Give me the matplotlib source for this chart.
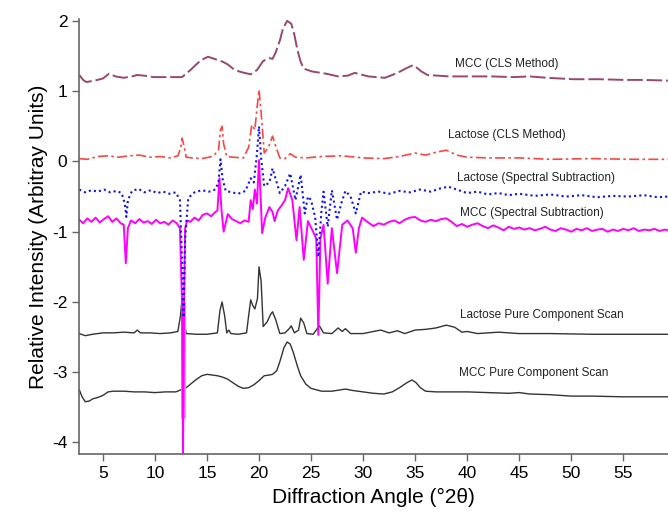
import matplotlib.pyplot as plt

plt.rcParams['font.family'] = ['Liberation Sans', 'DejaVu Sans']
plt.rcParams['axes.unicode_minus'] = False

# MCC (CLS Method)
mcc_cls_x = [2.73, 3.1, 3.4, 4.2, 5.0, 5.6, 6.2, 7.0, 7.8, 8.3, 9.0, 9.9, 11.0, 12.6, 13.0, 13.4, 13.9,
             14.4, 15.1, 15.7, 16.5, 17.0, 17.5, 18.1, 18.6, 19.2, 19.8, 20.4, 21.0, 21.3, 21.6, 22.0,
             22.3, 22.7, 23.1, 23.4, 23.7, 24.0, 24.3, 25.1, 26.4, 27.6, 28.5, 29.2, 30.5, 31.3, 32.1,
             33.3, 34.2, 34.8, 35.2, 35.6, 36.2, 38.3, 40.3, 42.4, 44.4, 46.0, 47.7, 50.2, 52.7,
             55.1, 57.0, 59.3]
mcc_cls_y = [1.23, 1.16, 1.13, 1.15, 1.18, 1.25, 1.21, 1.19, 1.21, 1.23, 1.22, 1.20, 1.20, 1.20, 1.25,
             1.30, 1.37, 1.44, 1.49, 1.46, 1.42, 1.38, 1.32, 1.28, 1.26, 1.24, 1.30, 1.43, 1.47, 1.46,
             1.55, 1.72, 1.89, 2.00, 1.96, 1.80, 1.58, 1.42, 1.32, 1.28, 1.25, 1.21, 1.22, 1.26, 1.21,
             1.20, 1.19, 1.26, 1.33, 1.37, 1.33, 1.28, 1.23, 1.21, 1.21, 1.21, 1.20, 1.21, 1.19, 1.17,
             1.17, 1.16, 1.16, 1.15]

# Lactose (CLS Method)
lac_cls_x = [2.73, 3.5, 4.5, 5.5, 6.5, 7.5, 8.5, 9.5, 10.5, 11.5, 12.2, 12.5, 12.6, 12.8, 13.0, 13.6,
             14.5, 15.5, 16.1, 16.3, 16.45, 16.6, 16.9, 17.5, 18.5, 19.0, 19.3, 19.6, 19.8, 20.0,
             20.2, 20.5, 20.9, 21.3, 21.6, 22.0, 22.5, 23.0, 23.5, 24.5, 26.0, 28.0, 30.0, 32.0,
             33.5, 35.0, 36.0, 37.0, 38.0, 39.0, 40.0, 42.0, 45.0, 48.0, 52.0, 56.0, 59.3]
lac_cls_y = [0.04, 0.03, 0.07, 0.08, 0.06, 0.08, 0.09, 0.06, 0.07, 0.05, 0.08, 0.20, 0.33, 0.22, 0.06,
             0.05, 0.04, 0.07, 0.15, 0.45, 0.50, 0.25, 0.07, 0.06, 0.05, 0.20, 0.52, 0.45, 0.75, 1.02,
             0.70, 0.12, 0.20, 0.36, 0.22, 0.05, 0.04, 0.11, 0.06, 0.05, 0.07, 0.08, 0.05, 0.04,
             0.07, 0.12, 0.09, 0.13, 0.16, 0.09, 0.06, 0.05, 0.05, 0.03, 0.04, 0.03, 0.03]

# Lactose (Spectral Subtraction)
lac_ss_x = [2.73, 3.3, 3.9, 4.5, 5.1, 5.7, 6.3, 6.8, 7.1, 7.25, 7.4, 7.8, 8.4, 9.0, 9.6, 10.2, 10.8,
            11.4, 12.0, 12.4, 12.6, 12.75, 12.9, 13.2, 13.8, 14.5, 15.2, 15.8, 16.1, 16.3, 16.5,
            16.8, 17.4, 18.0, 18.7, 19.2, 19.5, 19.8, 20.0, 20.2, 20.5, 21.0, 21.3, 21.6, 22.0,
            22.5, 23.0, 23.5, 24.0, 24.4, 24.7, 25.0, 25.4, 25.7, 26.0, 26.2, 26.6, 27.0, 27.5,
            27.9, 28.3, 28.8, 29.3, 29.8, 30.5, 31.5, 32.5, 33.5, 34.5, 35.5, 36.5, 37.5, 38.2,
            39.0, 40.0, 41.0, 42.0, 43.0, 44.0, 45.0, 46.5, 48.0, 49.5, 51.0, 52.5, 54.0, 55.5,
            57.0, 58.3, 59.3]
lac_ss_y = [-0.40, -0.44, -0.41, -0.43, -0.40, -0.44, -0.42, -0.45, -0.60, -0.79, -0.55, -0.42, -0.39,
            -0.44, -0.41, -0.45, -0.43, -0.46, -0.44, -0.55, -1.40, -2.22, -1.10, -0.52, -0.44,
            -0.41, -0.43, -0.40, -0.30, 0.03, -0.25, -0.42, -0.44, -0.46, -0.42, -0.24, -0.30,
            0.10, 0.50, 0.05, -0.35, -0.30, -0.10, -0.25, -0.45, -0.35, -0.17, -0.55, -0.19,
            -0.74, -0.50, -0.55, -0.80, -1.36, -0.70, -0.43, -0.93, -0.41, -0.83, -0.60, -0.42,
            -0.50, -0.74, -0.43, -0.45, -0.43, -0.46, -0.42, -0.44, -0.40, -0.43, -0.38, -0.36,
            -0.40, -0.45, -0.43, -0.47, -0.45, -0.48, -0.46, -0.49, -0.47, -0.50, -0.48, -0.51,
            -0.49, -0.50, -0.48, -0.51, -0.50]

# MCC (Spectral Subtraction)
mcc_ss_x = [2.73, 3.1, 3.5, 3.9, 4.3, 4.7, 5.1, 5.5, 5.9, 6.3, 6.7, 7.0, 7.2, 7.4, 7.7, 8.1, 8.5,
            8.9, 9.3, 9.7, 10.1, 10.5, 10.9, 11.3, 11.7, 12.1, 12.4, 12.6, 12.7, 12.8, 12.9, 13.1,
            13.4, 13.8, 14.2, 14.6, 15.0, 15.4, 15.8, 16.0, 16.2, 16.4, 16.6, 17.0, 17.4, 17.8,
            18.2, 18.6, 19.0, 19.2, 19.4, 19.6, 19.8, 20.0, 20.15, 20.3, 20.6, 21.0, 21.3, 21.5,
            21.8, 22.2, 22.5, 22.8, 23.2, 23.6, 23.9, 24.3, 24.7, 25.2, 25.5, 25.7, 25.9, 26.2,
            26.6, 27.0, 27.5, 28.0, 28.5, 29.0, 29.3, 29.6, 29.9, 30.5, 31.0, 31.5, 32.0, 32.5,
            33.0, 33.5, 34.0, 34.5, 35.0, 35.5, 36.0, 36.5, 37.0, 37.5, 38.0, 38.5, 39.0, 39.5,
            40.0, 40.5, 41.0, 41.5, 42.0, 42.5, 43.0, 43.5, 44.0, 44.5, 45.0, 45.5, 46.0, 46.5,
            47.0, 47.5, 48.0, 48.5, 49.0, 49.5, 50.0, 50.5, 51.0, 51.5, 52.0, 52.5, 53.0, 53.5,
            54.0, 54.5, 55.0, 55.5, 56.0, 56.5, 57.0, 57.5, 58.0, 58.5, 59.0, 59.3]
mcc_ss_y = [-0.83, -0.88, -0.81, -0.86, -0.80, -0.87, -0.82, -0.78, -0.86, -0.81, -0.88, -0.90,
            -1.45, -0.95, -0.84, -0.88, -0.82, -0.87, -0.85, -0.89, -0.83, -0.88, -0.86, -0.90,
            -0.84, -0.88, -0.95, -2.00, -4.17, -2.00, -0.95, -0.84, -0.86, -0.80, -0.84, -0.76,
            -0.74, -0.78, -0.72, -0.70, -0.24, -0.70, -1.00, -0.75, -0.82, -0.85, -0.88, -0.84,
            -0.86, -0.55, -0.68, -0.40, -0.60, 0.02, -0.50, -1.02, -0.80, -0.65, -0.72, -0.85,
            -0.70, -0.62, -0.55, -0.38, -0.55, -1.12, -0.65, -1.40, -0.85, -1.00, -1.10, -2.47,
            -1.10, -0.90, -1.74, -0.95, -1.59, -0.90, -0.84, -0.95, -1.30, -0.95, -0.80, -0.87,
            -0.92, -0.88, -0.90, -0.86, -0.84, -0.88, -0.83, -0.80, -0.79, -0.84, -0.86, -0.83,
            -0.85, -0.82, -0.81, -0.86, -0.92, -0.89, -0.93, -0.90, -0.88, -0.92, -0.95, -0.91,
            -0.94, -0.98, -0.93, -0.96, -0.94, -0.97, -0.95, -0.98, -0.96, -0.93, -0.97, -0.99,
            -0.95, -0.97, -1.00, -0.96, -0.98, -0.95, -0.99, -0.97, -0.96, -1.00, -0.97, -0.99,
            -0.96, -0.98, -0.95, -0.99, -0.97, -0.98, -0.96, -0.99, -0.97, -0.98]

# pale band of the deep MCC (Spectral Subtraction) dip near 12.7
dip_band_x = [12.7, 12.7]
dip_band_y = [-2.0, -3.65]

# Lactose Pure Component Scan
lac_pure_x = [2.73, 3.3, 4.0, 5.0, 6.0, 7.0, 8.0, 8.3, 8.6, 9.5, 10.5, 11.5, 12.2, 12.45, 12.6,
              12.8, 13.0, 14.0, 15.0, 16.0, 16.25, 16.45, 16.7, 16.9, 17.1, 17.3, 18.0, 18.8, 19.0,
              19.2, 19.4, 19.6, 19.85, 20.0, 20.2, 20.4, 20.8, 21.1, 21.3, 21.6, 22.0, 22.5, 22.9,
              23.1, 23.4, 23.8, 24.0, 24.3, 24.6, 25.2, 25.8, 26.2, 27.0, 27.6, 28.0, 28.3, 28.8,
              30.0, 31.0, 31.7, 32.5, 33.3, 34.0, 35.0, 36.0, 37.0, 38.0, 38.8, 39.5, 40.0, 41.0,
              43.0, 45.0, 48.0, 52.0, 56.0, 59.3]
lac_pure_y = [-2.45, -2.48, -2.46, -2.44, -2.44, -2.43, -2.44, -2.40, -2.44, -2.44, -2.45, -2.44,
              -2.42, -2.20, -1.96, -2.25, -2.45, -2.46, -2.46, -2.44, -2.12, -2.00, -2.20, -2.44,
              -2.40, -2.45, -2.46, -2.44, -2.20, -1.97, -2.05, -2.10, -1.95, -1.50, -1.70, -2.35,
              -2.28, -2.18, -2.14, -2.25, -2.45, -2.44, -2.38, -2.34, -2.44, -2.40, -2.23, -2.30,
              -2.45, -2.46, -2.34, -2.44, -2.45, -2.37, -2.42, -2.38, -2.45, -2.45, -2.42, -2.40,
              -2.44, -2.41, -2.45, -2.40, -2.39, -2.37, -2.33, -2.36, -2.43, -2.42, -2.45, -2.43,
              -2.45, -2.45, -2.46, -2.46, -2.46]

# MCC Pure Component Scan
mcc_pure_x = [2.73, 3.0, 3.3, 3.7, 4.0, 4.5, 5.0, 5.5, 6.0, 7.0, 8.0, 9.0, 10.0, 11.0, 12.0, 13.0,
              13.5, 14.0, 14.5, 15.0, 15.5, 16.0, 16.5, 17.0, 17.5, 18.0, 18.5, 19.0, 19.5, 20.0,
              20.5, 21.0, 21.3, 21.7, 22.0, 22.4, 22.7, 23.0, 23.3, 23.7, 24.0, 24.5, 25.0, 26.0,
              27.0, 28.3, 29.0, 30.0, 31.0, 32.0, 32.8, 33.5, 34.2, 34.7, 35.1, 35.5, 36.0, 37.0,
              38.0, 40.0, 42.0, 44.0, 45.0, 46.0, 48.0, 50.0, 52.0, 55.0, 57.0, 59.3]
mcc_pure_y = [-3.25, -3.35, -3.42, -3.41, -3.38, -3.36, -3.33, -3.28, -3.27, -3.27, -3.28, -3.28,
              -3.29, -3.28, -3.28, -3.22, -3.16, -3.10, -3.05, -3.03, -3.04, -3.05, -3.07, -3.10,
              -3.15, -3.20, -3.23, -3.22, -3.18, -3.12, -3.05, -3.04, -3.03, -2.98, -2.85, -2.65,
              -2.57, -2.60, -2.72, -2.92, -3.05, -3.17, -3.23, -3.27, -3.27, -3.24, -3.26, -3.28,
              -3.30, -3.31, -3.28, -3.22, -3.15, -3.11, -3.15, -3.22, -3.27, -3.28, -3.28, -3.28,
              -3.29, -3.30, -3.29, -3.31, -3.32, -3.34, -3.34, -3.35, -3.35, -3.35]

labels = ['MCC (CLS Method)', 'Lactose (CLS Method)', 'Lactose (Spectral Subtraction)',
          'MCC (Spectral Subtraction)', 'Lactose Pure Component Scan', 'MCC Pure Component Scan']
label_x = [38.85, 38.2, 39.0, 39.3, 39.3, 39.2]
label_y = [1.39, 0.37, -0.24, -0.74, -2.19, -3.01]

fig = plt.figure(figsize=(6.68, 5.13), dpi=100)
ax = fig.add_axes([0.1187, 0.115, 0.8813, 0.847])

ax.plot(mcc_pure_x, mcc_pure_y, color='#333333', lw=1.0)
ax.plot(lac_pure_x, lac_pure_y, color='#333333', lw=1.0)
ax.plot(dip_band_x, dip_band_y, color='#ff80ff', lw=3.5, solid_capstyle='butt')
ax.plot(mcc_ss_x, mcc_ss_y, color='#ff00ff', lw=1.4)
ax.plot(lac_ss_x, lac_ss_y, color='#1010ff', lw=1.5, linestyle=(0, (1, 1.5)))
ax.plot(lac_cls_x, lac_cls_y, color='#ff4444', lw=1.2, linestyle=(0, (6, 2, 1.5, 2)))
ax.plot(mcc_cls_x, mcc_cls_y, color='#9a4670', lw=1.4, linestyle=(0, (8, 2)))

for t, x, y in zip(labels, label_x, label_y):
    ax.text(x, y, t, fontsize=8.5, ha='left', va='center', color='#222222')

ax.set_xlim(2.73, 59.3)
ax.set_ylim(-4.164, 2.02)
ax.set_xticks([5, 10, 15, 20, 25, 30, 35, 40, 45, 50, 55])
ax.set_yticks([-4, -3, -2, -1, 0, 1, 2])
ax.set_xlabel('Diffraction Angle (°2θ)', fontsize=15, labelpad=5)
ax.set_ylabel('Relative Intensity (Arbitray Units)', fontsize=15, labelpad=3)

for s in ['top', 'right']:
    ax.spines[s].set_visible(False)
for s in ['left', 'bottom']:
    ax.spines[s].set_color('#666666')
    ax.spines[s].set_linewidth(1.2)
ax.tick_params(direction='out', length=5, color='#666666', labelsize=12.5, width=1)

fig.savefig('out.png', dpi=100)
